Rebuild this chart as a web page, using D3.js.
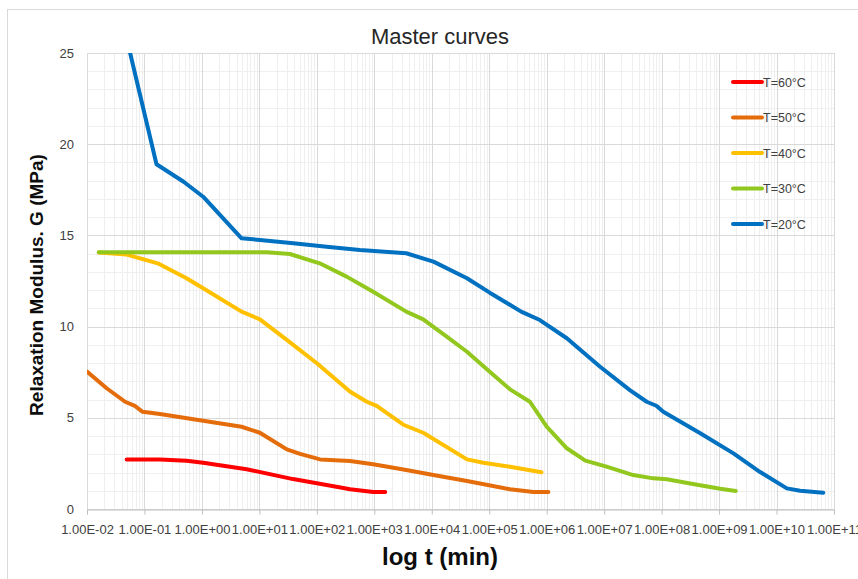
<!DOCTYPE html>
<html>
<head>
<meta charset="utf-8">
<script src="https://cdn.jsdelivr.net/npm/d3@7"></script>
<style>
  html, body { margin: 0; padding: 0; background: #fff; }
  svg { display: block; }
</style>
</head>
<body>
<svg id="chart" width="858" height="579"></svg>
<script>
// Relaxation modulus master curves, time in minutes, G in MPa
const seriesNames = ["T=60°C", "T=50°C", "T=40°C", "T=30°C", "T=20°C"];
const seriesColors = ["#FF0000", "#E46C0A", "#FFC000", "#92C81E", "#0070C0"];

const t60 = [4.9e-2, 1.86e-1, 5.4e-1, 1.05, 6.0, 3.85e1, 1.48e2, 3.8e2, 9.55e2, 1.55e3];
const g60 = [2.72, 2.72, 2.65, 2.54, 2.18, 1.64, 1.32, 1.08, 0.93, 0.93];

const t50 = [1.0e-2, 2.2e-2, 4.6e-2, 6.8e-2, 9.3e-2, 1.86e-1, 1.05, 4.9, 1.02e1, 3.0e1, 5.1e1,
             1.14e2, 3.8e2, 9.55e2, 3.6e3, 1.07e4, 4.1e4, 2.3e5, 5.9e5, 1.07e6];
const g50 = [7.53, 6.62, 5.88, 5.65, 5.33, 5.21, 4.84, 4.51, 4.18, 3.27, 3.02,
             2.72, 2.63, 2.45, 2.14, 1.86, 1.54, 1.08, 0.93, 0.93];

const t40 = [1.6e-2, 4.9e-2, 1.7e-1, 5.4e-1, 1.05, 4.9, 1.02e1, 3.0e1, 1.0e2, 3.8e2, 7.4e2,
             1.1e3, 3.2e3, 7.1e3, 4.1e4, 7.9e4, 2.3e5, 8.1e5];
const g40 = [14.06, 13.95, 13.47, 12.65, 12.1, 10.82, 10.4, 9.27, 7.99, 6.43, 5.88,
             5.65, 4.62, 4.18, 2.72, 2.54, 2.32, 2.01];

const t30 = [1.6e-2, 1.35e1, 3.4e1, 1.12e2, 3.3e2, 9.55e2, 3.6e3, 7.1e3, 1.82e4, 4.1e4,
             1.02e5, 2.3e5, 5.1e5, 1.0e6, 2.24e6, 4.7e6, 1.1e7, 3.2e7, 7.2e7, 1.23e8,
             3.5e8, 1.05e9, 1.95e9];
const g30 = [14.08, 14.07, 13.98, 13.47, 12.74, 11.91, 10.82, 10.4, 9.45, 8.62,
             7.53, 6.56, 5.88, 4.51, 3.33, 2.65, 2.32, 1.86, 1.68, 1.63,
             1.37, 1.11, 0.99];

const t20 = [4.9e-2, 1.62e-1, 4.8e-1, 1.05, 4.9, 1.02e1, 3.9e1, 1.48e2, 5.6e2, 3.6e3,
             1.07e4, 4.1e4, 1.02e5, 3.6e5, 7.6e5, 2.24e6, 8.5e6, 2.8e7, 5.5e7, 8.1e7,
             1.07e8, 4.7e8, 1.78e9, 5.1e9, 1.51e10, 2.57e10, 6.5e10];
const g20 = [25.8, 18.9, 17.94, 17.12, 14.84, 14.75, 14.57, 14.38, 14.2, 14.02,
             13.56, 12.65, 11.86, 10.82, 10.36, 9.36, 7.8, 6.52, 5.88, 5.66,
             5.33, 4.15, 3.05, 2.04, 1.13, 1.0, 0.89];

const seriesT = [t60, t50, t40, t30, t20];
const seriesG = [g60, g50, g40, g30, g20];

const xTickLabels = ["1.00E-02", "1.00E-01", "1.00E+00", "1.00E+01", "1.00E+02", "1.00E+03",
                     "1.00E+04", "1.00E+05", "1.00E+06", "1.00E+07", "1.00E+08", "1.00E+09",
                     "1.00E+10", "1.00E+11"];
const yTicks = [0, 5, 10, 15, 20, 25];

const svg = d3.select("#chart");
const W = 858, H = 579;
const m = { left: 87, right: 834, top: 53, bottom: 509 };
const fontFamily = "'Liberation Sans', Arial, sans-serif";

// outer chart frame
svg.append("rect")
  .attr("x", 7.5).attr("y", 9.5).attr("width", W).attr("height", H)
  .attr("fill", "#fff").attr("stroke", "#d9d9d9").attr("stroke-width", 1);

const x = d3.scaleLog().domain([1e-2, 1e11]).range([m.left, m.right]);
const y = d3.scaleLinear().domain([0, 25]).range([m.bottom, m.top]);

const decades = d3.range(-2, 12).map(e => Math.pow(10, e));
const minorX = [];
decades.slice(0, -1).forEach(d => { for (let k = 2; k <= 9; k++) minorX.push(d * k); });
const minorY = d3.range(0, 26).filter(v => v % 5 !== 0);

const grid = svg.append("g");
grid.selectAll(".mx").data(minorX).join("line")
  .attr("x1", d => Math.round(x(d)) + 0.5).attr("x2", d => Math.round(x(d)) + 0.5)
  .attr("y1", m.top).attr("y2", m.bottom)
  .attr("stroke", "#efefef").attr("stroke-width", 1);
grid.selectAll(".my").data(minorY).join("line")
  .attr("x1", m.left).attr("x2", m.right)
  .attr("y1", d => Math.round(y(d)) + 0.5).attr("y2", d => Math.round(y(d)) + 0.5)
  .attr("stroke", "#efefef").attr("stroke-width", 1);
grid.selectAll(".Mx").data(decades).join("line")
  .attr("x1", d => Math.round(x(d)) + 0.5).attr("x2", d => Math.round(x(d)) + 0.5)
  .attr("y1", m.top).attr("y2", m.bottom)
  .attr("stroke", "#d9d9d9").attr("stroke-width", 1);
grid.selectAll(".My").data(yTicks).join("line")
  .attr("x1", m.left).attr("x2", m.right)
  .attr("y1", d => Math.round(y(d)) + 0.5).attr("y2", d => Math.round(y(d)) + 0.5)
  .attr("stroke", "#d9d9d9").attr("stroke-width", 1);

// x axis with decade ticks
const xAxis = d3.axisBottom(x)
  .tickValues(decades)
  .tickSize(5)
  .tickFormat((d, i) => xTickLabels[i]);
const gx = svg.append("g").attr("transform", `translate(0,${m.bottom + 0.5})`).call(xAxis);
gx.select(".domain").attr("stroke", "#bfbfbf");
gx.selectAll(".tick line").attr("stroke", "#bfbfbf");
gx.selectAll(".tick text")
  .attr("fill", "#404040").attr("font-size", 13).attr("font-family", fontFamily)
  .attr("dy", null).attr("y", 24);

// y axis labels
const yAxis = d3.axisLeft(y).tickValues(yTicks).tickSize(0).tickPadding(13);
const gy = svg.append("g").attr("transform", `translate(${m.left},0)`).call(yAxis);
gy.select(".domain").attr("stroke", "#d9d9d9");
gy.selectAll(".tick text")
  .attr("fill", "#404040").attr("font-size", 13).attr("font-family", fontFamily);

// clip curves to the plot area
svg.append("clipPath").attr("id", "plotClip")
  .append("rect").attr("x", m.left).attr("y", m.top)
  .attr("width", m.right - m.left).attr("height", m.bottom - m.top);

const line = d3.line().x(d => x(d[0])).y(d => y(d[1]));
const curves = svg.append("g").attr("clip-path", "url(#plotClip)");
seriesNames.forEach((name, i) => {
  const pts = seriesT[i].map((t, j) => [t, seriesG[i][j]]);
  curves.append("path")
    .datum(pts)
    .attr("d", line)
    .attr("fill", "none")
    .attr("stroke", seriesColors[i])
    .attr("stroke-width", 4)
    .attr("stroke-linejoin", "round")
    .attr("stroke-linecap", "round");
});

// legend
const legend = svg.append("g");
seriesNames.forEach((name, i) => {
  const ly = 82 + i * 35.5;
  legend.append("line")
    .attr("x1", 733).attr("x2", 762).attr("y1", ly).attr("y2", ly)
    .attr("stroke", seriesColors[i]).attr("stroke-width", 4).attr("stroke-linecap", "round");
  legend.append("text")
    .attr("x", 763).attr("y", ly + 4.5)
    .attr("font-size", 12.5).attr("font-family", fontFamily).attr("fill", "#404040")
    .text(name);
});

// titles
svg.append("text")
  .attr("x", 440).attr("y", 44).attr("text-anchor", "middle")
  .attr("font-size", 22).attr("font-family", fontFamily).attr("fill", "#262626")
  .text("Master curves");

svg.append("text")
  .attr("x", 440).attr("y", 565).attr("text-anchor", "middle")
  .attr("font-size", 24).attr("font-weight", "bold").attr("font-family", fontFamily).attr("fill", "#0d0d0d")
  .text("log t (min)");

svg.append("text")
  .attr("transform", `translate(43,285) rotate(-90)`)
  .attr("text-anchor", "middle")
  .attr("font-size", 19).attr("font-weight", "bold").attr("font-family", fontFamily).attr("fill", "#0d0d0d")
  .text("Relaxation Modulus. G (MPa)");
</script>
</body>
</html>
